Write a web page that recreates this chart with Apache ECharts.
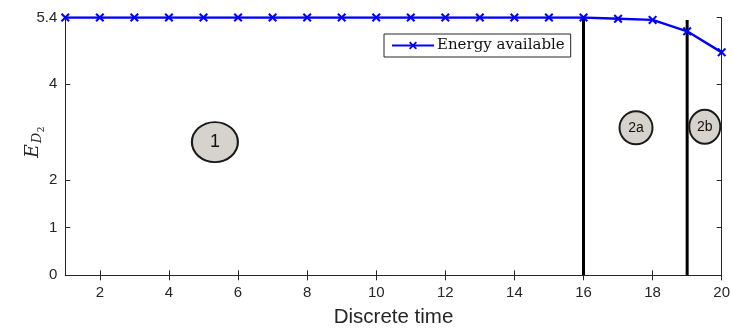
<!DOCTYPE html>
<html>
<head>
<meta charset="utf-8">
<script src="https://cdn.jsdelivr.net/npm/echarts@6/dist/echarts.min.js"></script>
<style>
  html, body { margin: 0; padding: 0; background: #fff; }
  #chart { width: 733px; height: 328px; }
</style>
</head>
<body>
<div id="chart"></div>
<script>
// Energy available over discrete time
const timeSteps = [1, 2, 3, 4, 5, 6, 7, 8, 9, 10, 11, 12, 13, 14, 15, 16, 17, 18, 19, 20];
const energyAvailable = [5.4, 5.4, 5.4, 5.4, 5.4, 5.4, 5.4, 5.4, 5.4, 5.4, 5.4, 5.4, 5.4, 5.4, 5.4, 5.4, 5.375, 5.35, 5.11, 4.67];
const xTicks = [2, 4, 6, 8, 10, 12, 14, 16, 18, 20];
const yTicks = [0, 1, 2, 4, 5.4];

// Phase boundaries (vertical separators)
const boundaries = [
  { x: 16, top: 5.4 },
  { x: 19, top: 5.35 }
];

// Phase markers
const phases = [
  { name: '1', x: 5.33, y: 2.79, size: [46, 40] },
  { name: '2a', x: 17.52, y: 3.09, size: [33, 33] },
  { name: '2b', x: 19.51, y: 3.11, size: [31, 34] }
];

const axisColor = '#262626';
const sans = '"Liberation Sans", Arial, sans-serif';
const serif = '"DejaVu Serif", serif';
const xMark = 'path://M0,1.6L1.6,0L5,3.4L8.4,0L10,1.6L6.6,5L10,8.4L8.4,10L5,6.6L1.6,10L0,8.4L3.4,5Z';

const chart = echarts.init(document.getElementById('chart'));

const tickStyle = { inside: true, length: 5, lineStyle: { color: axisColor, width: 1 } };

const series = [
  {
    name: 'Energy available',
    type: 'line',
    data: timeSteps.map((t, i) => [t, energyAvailable[i]]),
    symbol: xMark,
    symbolSize: 9,
    lineStyle: { color: '#0000ff', width: 2.4 },
    itemStyle: { color: '#0000ff' },
    z: 5,
    animation: false
  }
];

boundaries.forEach(b => {
  series.push({
    type: 'line',
    data: [[b.x, 0], [b.x, b.top]],
    symbol: 'none',
    lineStyle: { color: '#000', width: 3 },
    z: 4,
    silent: true,
    animation: false
  });
});

series.push({
  type: 'scatter',
  data: phases.map(p => ({
    value: [p.x, p.y],
    symbolSize: p.size,
    label: { show: true, formatter: p.name, fontSize: p.name === '1' ? 18 : 14 }
  })),
  symbol: 'circle',
  itemStyle: { color: '#d6d3cc', borderColor: '#1a1a1a', borderWidth: 2, opacity: 1 },
  label: { position: 'inside', color: '#111', fontFamily: sans },
  z: 6,
  silent: true,
  animation: false
});

chart.setOption({
  animation: false,
  backgroundColor: '#fff',
  grid: { left: 65.3, right: 11.3, top: 17.5, bottom: 52.7, containLabel: false, outerBoundsMode: 'none' },
  legend: {
    data: ['Energy available'],
    left: 384,
    top: 34,
    orient: 'horizontal',
    itemWidth: 42,
    itemHeight: 10,
    itemGap: 4,
    padding: [4, 6, 4, 7],
    borderColor: axisColor,
    borderWidth: 1,
    backgroundColor: '#fff',
    textStyle: { fontFamily: serif, fontSize: 15, color: '#111', padding: [0, 0, 0, -2] }
  },
  xAxis: [
    {
      type: 'value', min: 1, max: 20,
      axisLine: { lineStyle: { color: axisColor, width: 1 } },
      axisTick: Object.assign({ customValues: xTicks }, tickStyle),
      axisLabel: { customValues: xTicks, color: axisColor, fontFamily: sans, fontSize: 15, margin: 10 },
      splitLine: { show: false },
      name: 'Discrete time',
      nameLocation: 'middle',
      nameGap: 32,
      nameTextStyle: { fontFamily: sans, fontSize: 20.5, color: axisColor }
    },
    {
      type: 'value', min: 1, max: 20, position: 'top',
      axisLine: { show: true, lineStyle: { color: axisColor, width: 1 } },
      axisTick: Object.assign({ customValues: xTicks }, tickStyle),
      axisLabel: { show: false },
      splitLine: { show: false }
    }
  ],
  yAxis: [
    {
      type: 'value', min: 0, max: 5.4,
      axisLine: { show: true, lineStyle: { color: axisColor, width: 1 } },
      axisTick: Object.assign({ customValues: yTicks }, tickStyle),
      axisLabel: { customValues: yTicks, color: axisColor, fontFamily: sans, fontSize: 15, margin: 8 },
      splitLine: { show: false }
    },
    {
      type: 'value', min: 0, max: 5.4, position: 'right',
      axisLine: { show: true, lineStyle: { color: axisColor, width: 1 } },
      axisTick: Object.assign({ customValues: yTicks }, tickStyle),
      axisLabel: { show: false },
      splitLine: { show: false }
    }
  ],
  graphic: [
    {
      type: 'group',
      x: 33, y: 151,
      rotation: Math.PI / 2,
      children: [
        { type: 'text', x: 0, y: 0, style: { text: 'E', font: 'italic 19px "DejaVu Serif", serif', fill: axisColor, align: 'center', verticalAlign: 'middle' } },
        { type: 'text', x: 13, y: 5, style: { text: 'D', font: 'italic 13px "DejaVu Serif", serif', fill: axisColor, align: 'center', verticalAlign: 'middle' } },
        { type: 'text', x: 21.5, y: 9, style: { text: '2', font: '9px "DejaVu Serif", serif', fill: axisColor, align: 'center', verticalAlign: 'middle' } }
      ]
    }
  ],
  series: series
});
</script>
</body>
</html>
